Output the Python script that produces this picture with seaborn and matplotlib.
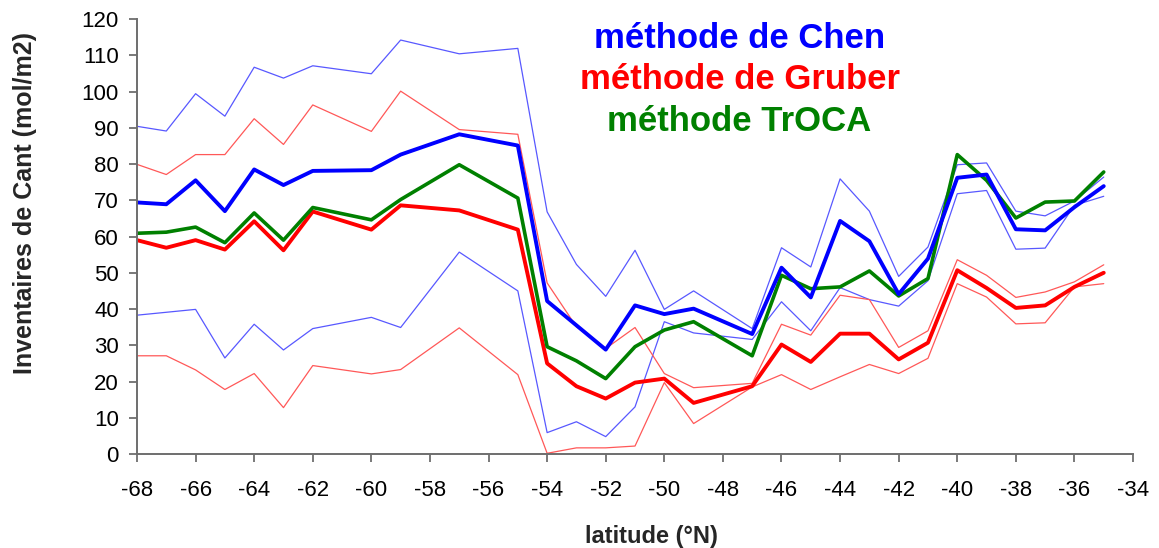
import numpy as np
import pandas as pd
import matplotlib.pyplot as plt
import seaborn as sns

nan = np.nan

# latitudes -68 ... -35 (missing stations left as NaN)
latitude = np.arange(-68, -34)

chen = [69.4, 68.9, 75.5, 67.0, 78.5, 74.2, 78.1, nan, 78.3, 82.6, nan, 88.2, nan, 85.1,
        42.2, 35.5, 28.8, 41.0, 38.6, 40.1, nan, 33.1, 51.4, 43.2, 64.3, 58.7, 44.1, 53.9,
        76.2, 77.1, 62.0, 61.7, 68.1, 73.9]
chen_haut = [90.4, 89.1, 99.4, 93.2, 106.7, 103.7, 107.1, nan, 104.9, 114.2, nan, 110.4, nan, 111.9,
             66.8, 52.3, 43.5, 56.2, 39.9, 45.0, nan, 34.6, 56.9, 51.6, 75.9, 67.0, 49.0, 57.1,
             79.8, 80.3, 67.0, 65.7, 69.8, 76.4]
chen_bas = [38.3, 39.1, 39.9, 26.5, 35.8, 28.7, 34.6, nan, 37.7, 34.9, nan, 55.7, nan, 45.0,
            5.9, 8.9, 4.8, 13.0, 36.5, 33.4, nan, 31.6, 42.0, 34.0, 45.9, 42.6, 40.8, 47.8,
            71.8, 72.7, 56.5, 56.8, 68.6, 71.1]

gruber = [59.0, 56.9, 59.0, 56.4, 64.2, 56.2, 66.9, nan, 61.9, 68.6, nan, 67.2, nan, 61.9,
          25.0, 18.7, 15.3, 19.7, 20.8, 14.1, nan, 18.7, 30.2, 25.4, 33.2, 33.2, 26.1, 30.7,
          50.7, 45.8, 40.3, 41.0, 46.1, 50.0]
gruber_haut = [79.9, 77.1, 82.6, 82.6, 92.5, 85.4, 96.3, nan, 89.0, 100.1, nan, 89.5, nan, 88.2,
               47.2, 35.1, 29.1, 34.9, 22.2, 18.3, nan, 19.5, 35.8, 32.8, 43.8, 42.6, 29.4, 34.0,
               53.6, 49.3, 43.2, 44.7, 47.5, 52.2]
gruber_bas = [27.1, 27.1, 23.2, 17.8, 22.2, 12.8, 24.4, nan, 22.1, 23.3, nan, 34.8, nan, 21.9,
              0.2, 1.7, 1.7, 2.2, 19.7, 8.4, nan, 18.5, 21.9, 17.8, 21.3, 24.7, 22.2, 26.4,
              47.0, 43.3, 35.9, 36.2, 46.1, 47.0]

troca = [60.9, 61.2, 62.6, 58.3, 66.5, 59.0, 68.0, nan, 64.6, 70.2, nan, 79.8, nan, 70.6,
         29.6, 25.7, 20.8, 29.6, 34.2, 36.5, nan, 27.1, 49.3, 45.6, 46.1, 50.5, 43.6, 48.4,
         82.6, 75.5, 65.1, 69.5, 69.8, 77.8]

sns.set_theme(style="ticks")
plt.rcParams["font.family"] = ["Liberation Sans", "DejaVu Sans"]
plt.rcParams["axes.unicode_minus"] = False

# (values, colour, width) -- thin envelopes first, thick means on top
series = [
    (chen_haut, "#5858ff", 0.9),
    (chen_bas, "#5858ff", 0.9),
    (gruber_haut, "#ff5858", 0.9),
    (gruber_bas, "#ff5858", 0.9),
    (gruber, "#ff0000", 2.8),
    (troca, "#008000", 2.6),
    (chen, "#0000ff", 2.8),
]

fig = plt.figure(figsize=(11.59, 5.48), dpi=100)
ax = fig.add_axes([0.1182, 0.1715, 0.8594, 0.7938])

for values, color, lw in series:
    df = pd.DataFrame({"latitude": latitude, "cant": values}).dropna()
    sns.lineplot(data=df, x="latitude", y="cant", color=color, linewidth=lw,
                 estimator=None, sort=False, ax=ax)

ax.set_xlim(-68, -34)
ax.set_ylim(0, 120)
ax.set_xticks(range(-68, -33, 2))
ax.set_yticks(range(0, 121, 10))

for side in ["top", "right"]:
    ax.spines[side].set_visible(False)
for side in ["left", "bottom"]:
    ax.spines[side].set_color("#6e6e6e")
    ax.spines[side].set_linewidth(1.4)

ax.tick_params(axis="both", direction="out", length=6, width=1.3, color="#6e6e6e",
               labelsize=16, labelcolor="black")
ax.tick_params(axis="x", pad=13)
ax.tick_params(axis="y", pad=7)

ax.set_xlabel("latitude (°N)", fontsize=17, fontweight="bold")
ax.set_ylabel("Inventaires de Cant (mol/m2)", fontsize=18, fontweight="bold")
ax.xaxis.set_label_coords(0.516, -0.163)
ax.yaxis.set_label_coords(-0.10, 0.577)

ax.text(0.605, 0.955, "méthode de Chen", color="#0000ff", fontsize=25, fontweight="bold",
        ha="center", va="center", transform=ax.transAxes)
ax.text(0.605, 0.862, "méthode de Gruber", color="#ff0000", fontsize=25, fontweight="bold",
        ha="center", va="center", transform=ax.transAxes)
ax.text(0.605, 0.765, "méthode TrOCA", color="#008000", fontsize=25, fontweight="bold",
        ha="center", va="center", transform=ax.transAxes)

fig.savefig("out.png", dpi=100)
